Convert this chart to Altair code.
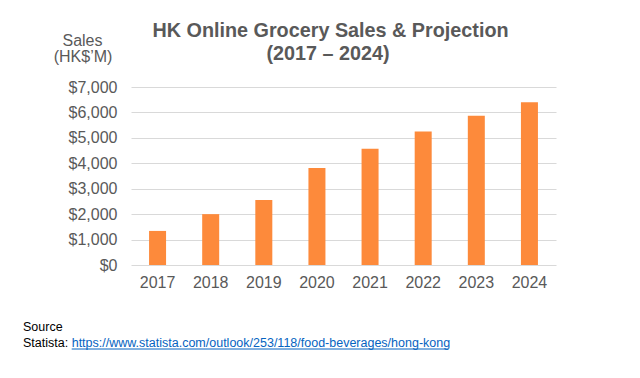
import altair as alt
import pandas as pd

years = ["2017", "2018", "2019", "2020", "2021", "2022", "2023", "2024"]
sales = [1340, 2000, 2560, 3810, 4570, 5250, 5870, 6400]
y_ticks = [0, 1000, 2000, 3000, 4000, 5000, 6000, 7000]
title_lines = ["HK Online Grocery Sales & Projection", "(2017 \u2013 2024)"]
ylabel_lines = ["Sales", "(HK$\u2019M)"]
source_label = "Source"
source_prefix = "Statista:"
source_url = "https://www.statista.com/outlook/253/118/food-beverages/hong-kong"

FONT = "Liberation Sans"
GRAY = "#595959"

df = pd.DataFrame({"year": years, "sales": sales})

bars = alt.Chart(df).mark_bar(color="#FD8A3B").encode(
    x=alt.X("year:N", sort=years, title=None,
            scale=alt.Scale(paddingInner=0.68, paddingOuter=0.34),
            axis=alt.Axis(labelAngle=0, labelFont=FONT, labelFontSize=16,
                          labelColor=GRAY, ticks=False, domain=False,
                          labelPadding=9, grid=False)),
    y=alt.Y("sales:Q", title=None,
            scale=alt.Scale(domain=[0, 7000], nice=False),
            axis=alt.Axis(values=y_ticks, format="$,.0f", labelFont=FONT,
                          labelFontSize=16, labelColor=GRAY, ticks=False,
                          domain=False, labelPadding=14, gridColor="#D9D9D9",
                          gridWidth=1)),
)


def text_layer(txt, x, y, size, color, weight="normal", align="center", baseline="alphabetic"):
    return alt.Chart(pd.DataFrame({"t": [txt]})).mark_text(
        font=FONT, fontSize=size, color=color, fontWeight=weight,
        align=align, baseline=baseline,
    ).encode(x=alt.value(x), y=alt.value(y), text="t:N")


layers = [
    bars,
    text_layer(title_lines[0], 199.5, -50.5, 19.8, GRAY, weight="bold"),
    text_layer(title_lines[1], 197, -27, 19.8, GRAY, weight="bold"),
    text_layer(ylabel_lines[0], -48.5, -41, 16, GRAY),
    text_layer(ylabel_lines[1], -48, -25, 16, GRAY),
    text_layer(source_label, -108, 243.5, 12.5, "#000000", align="left"),
    text_layer(source_prefix, -108, 259.5, 12.5, "#000000", align="left"),
    text_layer(source_url, -59.3, 259.5, 12.5, "#0563C1", align="left"),
    alt.Chart(pd.DataFrame({"u": [source_url]})).mark_rule(color="#0563C1", strokeWidth=1).encode(
        x=alt.value(-59.3), x2=alt.value(317), y=alt.value(262)),
]

chart = alt.layer(*layers).properties(
    width=425, height=178,
    autosize=alt.AutoSizeParams(type="none"),
    padding={"left": 123, "top": 79, "right": 76, "bottom": 105},
).configure(background="white").configure_view(stroke=None, strokeWidth=0)

chart.save("out.html", embed_options={"renderer": "svg", "actions": False})
